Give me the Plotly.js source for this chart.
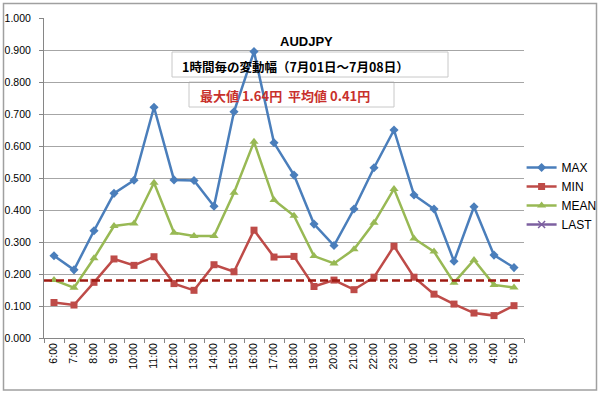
<!DOCTYPE html>
<html>
<head>
<meta charset="utf-8">
<script src="https://cdn.plot.ly/plotly-3.0.1.min.js"></script>
<style>
html,body{margin:0;padding:0;background:#fff;}
#chart{width:600px;height:395px;}
</style>
</head>
<body>
<div id="chart"></div>
<script>
const hours = ["6:00","7:00","8:00","9:00","10:00","11:00","12:00","13:00","14:00","15:00","16:00","17:00","18:00","19:00","20:00","21:00","22:00","23:00","0:00","1:00","2:00","3:00","4:00","5:00"];
const maxVals  = [0.257,0.213,0.335,0.452,0.493,0.721,0.494,0.492,0.412,0.707,0.895,0.610,0.509,0.356,0.289,0.403,0.532,0.650,0.447,0.403,0.240,0.410,0.259,0.220];
const minVals  = [0.111,0.103,0.174,0.247,0.227,0.254,0.170,0.149,0.229,0.207,0.337,0.253,0.255,0.161,0.181,0.151,0.190,0.287,0.190,0.137,0.106,0.078,0.070,0.101];
const meanVals = [0.181,0.157,0.249,0.350,0.358,0.485,0.329,0.319,0.319,0.454,0.613,0.431,0.382,0.256,0.233,0.277,0.360,0.466,0.311,0.270,0.173,0.244,0.166,0.158];
const lastVals = hours.map(() => null);
const refLevel = 0.18;
const yTicks = [0,0.1,0.2,0.3,0.4,0.5,0.6,0.7,0.8,0.9,1.0];
const titleMain = "AUDJPY";
const subTitle = "1時間毎の変動幅（7月01日～7月08日）";
const statText = "最大値 1.64円\u00a0\u00a0平均値 0.41円";

const F = '"Liberation Sans", Arial, "Noto Sans CJK JP", sans-serif';
const FJ = '"Noto Sans CJK JP", "Liberation Sans", sans-serif';

// pixel helpers (plot area: x 44..524, y 18..338)
const L = 44, R = 524, T = 18, B = 338;
const px = v => (v - L) / (R - L);
const py = v => (B - v) / (B - T);

const traces = [
  {name:"MAX", x:hours, y:maxVals, type:"scatter", mode:"lines+markers",
   line:{color:"#4a7ebb", width:2.5}, marker:{symbol:"diamond", size:7, color:"#4a7ebb"}},
  {name:"MIN", x:hours, y:minVals, type:"scatter", mode:"lines+markers",
   line:{color:"#be4b48", width:2.5}, marker:{symbol:"square", size:7, color:"#be4b48"}},
  {name:"MEAN", x:hours, y:meanVals, type:"scatter", mode:"lines+markers",
   line:{color:"#98b954", width:2.5}, marker:{symbol:"triangle-up", size:8, color:"#98b954"}},
  {name:"LAST", x:hours, y:lastVals, type:"scatter", mode:"lines+markers",
   line:{color:"#7d60a0", width:2.5}, marker:{symbol:"x-thin-open", size:7, color:"#7d60a0", line:{width:1.5, color:"#7d60a0"}}}
];

const layout = {
  width:600, height:395,
  margin:{l:L, r:600-R, t:T, b:395-B, pad:0, autoexpand:false},
  paper_bgcolor:"#ffffff", plot_bgcolor:"#ffffff",
  font:{family:F, size:10, color:"#000"},
  showlegend:true,
  legend:{x:0.995, y:py(153), xanchor:"left", yanchor:"top", font:{family:F, size:12, color:"#000"},
          bgcolor:"rgba(0,0,0,0)", itemwidth:30, tracegroupgap:0},
  xaxis:{type:"category", categoryorder:"array", categoryarray:hours, range:[-0.5, hours.length-0.5],
         tickangle:-90, ticks:"outside", ticklen:4, tickcolor:"#868686", tickson:"boundaries",
         showline:true, linecolor:"#868686", linewidth:1, showgrid:false, zeroline:false, automargin:false,
         tickfont:{family:F, size:10.5, color:"#000"}, fixedrange:true},
  yaxis:{range:[0,1.0], tickvals:yTicks, tickformat:".3f", ticks:"outside", ticklen:4, tickcolor:"#868686",
         showline:true, linecolor:"#868686", linewidth:1, showgrid:true, gridcolor:"#a6a6a6", gridwidth:1,
         zeroline:false, automargin:false, ticklabelstandoff:6, tickfont:{family:F, size:10.5, color:"#000"}, fixedrange:true},
  shapes:[
    {type:"rect", xref:"paper", yref:"paper", x0:px(172), x1:px(448), y0:py(77), y1:py(52),
     line:{color:"#c8c8c8", width:1}, fillcolor:"#ffffff", layer:"between"},
    {type:"rect", xref:"paper", yref:"paper", x0:px(189), x1:px(394), y0:py(107), y1:py(82),
     line:{color:"#c8c8c8", width:1}, fillcolor:"#ffffff", layer:"between"},
    {type:"line", xref:"paper", yref:"y", x0:0, x1:1, y0:refLevel, y1:refLevel,
     line:{color:"#9e1a12", width:2.5, dash:"8px,4px"}, layer:"above"},
    {type:"rect", xref:"paper", yref:"paper", x0:px(3.5), x1:px(596.5), y0:py(390), y1:py(3.5),
     line:{color:"#a0a0a0", width:1.5}, fillcolor:"rgba(0,0,0,0)", layer:"above"}
  ],
  annotations:[
    {text:"<b>"+titleMain+"</b>", xref:"paper", yref:"paper", x:px(306), y:py(41), xanchor:"center", yanchor:"middle",
     showarrow:false, font:{family:F, size:13, color:"#000"}},
    {text:"<b>"+subTitle+"</b>", xref:"paper", yref:"paper", x:px(180), y:py(66), xanchor:"left", yanchor:"middle",
     showarrow:false, font:{family:FJ, size:12.5, color:"#000"}},
    {text:"<b>"+statText+"</b>", xref:"paper", yref:"paper", x:px(198), y:py(95), xanchor:"left", yanchor:"middle",
     showarrow:false, font:{family:FJ, size:13, color:"#c8302c"}}
  ]
};

Plotly.newPlot("chart", traces, layout, {displayModeBar:false, staticPlot:true});
</script>
</body>
</html>
